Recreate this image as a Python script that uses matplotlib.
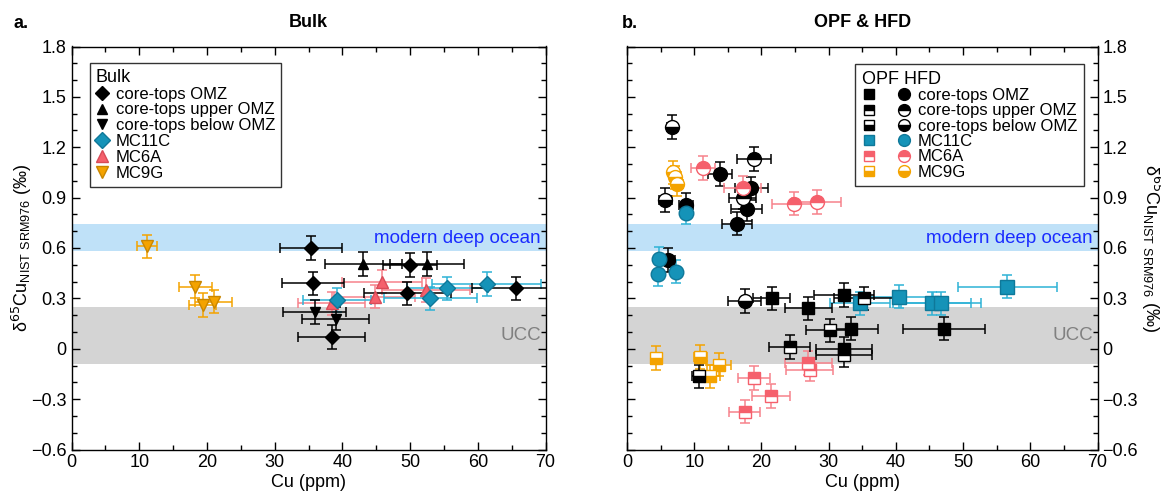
import matplotlib
matplotlib.use("Agg")
import matplotlib.pyplot as plt
from matplotlib.lines import Line2D
from matplotlib.legend_handler import HandlerTuple
from matplotlib.ticker import MultipleLocator, FuncFormatter

plt.rcParams['font.family'] = ['Liberation Sans', 'DejaVu Sans']

# ---------------- data: panel a (Bulk) ----------------
bulk_omz_x = [35.4, 35.7, 50.0, 49.6, 38.4, 65.7]
bulk_omz_y = [0.60, 0.39, 0.50, 0.33, 0.07, 0.36]
bulk_omz_xerr = [4.6, 4.6, 4.0, 6.4, 5.0, 6.5]

bulk_upper_x = [43.1, 52.5]
bulk_upper_y = [0.505, 0.505]
bulk_upper_xerr = [5.7, 5.4]

bulk_below_x = [35.9, 39.0]
bulk_below_y = [0.22, 0.18]
bulk_below_xerr = [4.6, 5.0]

bulk_mc11c_x = [39.2, 53.0, 55.5, 61.3]
bulk_mc11c_y = [0.29, 0.30, 0.36, 0.385]
bulk_mc11c_xerr = [5.0, 6.9, 6.0, 8.1]

bulk_mc6a_x = [38.4, 44.8, 45.8, 52.3]
bulk_mc6a_y = [0.27, 0.31, 0.40, 0.35]
bulk_mc6a_xerr = [5.0, 6.0, 5.9, 6.5]

bulk_mc9g_x = [11.2, 18.3, 19.4, 21.0]
bulk_mc9g_y = [0.61, 0.37, 0.26, 0.28]
bulk_mc9g_xerr = [1.5, 2.4, 2.0, 2.7]

# ---------------- data: panel b (OPF squares) ----------------
opf_omz_x = [21.5, 27.0, 32.3, 33.4, 47.1, 32.3]
opf_omz_y = [0.30, 0.24, 0.32, 0.12, 0.12, 0.0]
opf_omz_xerr = [2.8, 3.5, 4.5, 3.9, 6.1, 4.2]

opf_upper_x = [35.3, 24.2, 32.3]
opf_upper_y = [0.30, 0.01, -0.04]
opf_upper_xerr = [4.5, 3.1, 4.2]

opf_below_x = [30.2, 10.7]
opf_below_y = [0.11, -0.165]
opf_below_xerr = [3.5, 1.0]

opf_mc11c_x = [34.7, 40.5, 45.4, 46.7, 56.6]
opf_mc11c_y = [0.27, 0.31, 0.27, 0.27, 0.37]
opf_mc11c_xerr = [4.5, 5.0, 5.8, 5.9, 7.4]

opf_mc6a_x = [18.9, 21.4, 17.5, 27.0, 27.2]
opf_mc6a_y = [-0.175, -0.28, -0.375, -0.085, -0.125]
opf_mc6a_xerr = [2.4, 2.8, 2.3, 3.5, 3.5]

opf_mc9g_x = [4.3, 10.9, 13.7, 12.4]
opf_mc9g_y = [-0.055, -0.05, -0.095, -0.165]
opf_mc9g_xerr = [0.7, 1.0, 1.8, 1.5]

# ---------------- data: panel b (HFD circles) ----------------
hfd_omz_x = [6.1, 8.8, 13.8, 18.5, 17.8, 16.4]
hfd_omz_y = [0.53, 0.855, 1.04, 0.955, 0.83, 0.745]
hfd_omz_xerr = [1.0, 1.0, 1.8, 2.5, 2.3, 2.2]

hfd_upper_x = [18.9, 17.2]
hfd_upper_y = [1.13, 0.90]
hfd_upper_xerr = [2.5, 2.0]

hfd_below_x = [6.7, 5.7, 17.5]
hfd_below_y = [1.32, 0.885, 0.285]
hfd_below_xerr = [0.7, 1.0, 2.4]

hfd_mc11c_x = [4.7, 4.6, 7.3, 8.8]
hfd_mc11c_y = [0.535, 0.445, 0.46, 0.81]
hfd_mc11c_xerr = [0.6, 0.6, 0.8, 0.6]

hfd_mc6a_x = [11.3, 17.2, 24.8, 28.2]
hfd_mc6a_y = [1.075, 0.96, 0.865, 0.875]
hfd_mc6a_xerr = [1.8, 2.75, 3.3, 3.7]

hfd_mc9g_x = [6.9, 7.2, 7.5]
hfd_mc9g_y = [1.05, 1.02, 0.98]
hfd_mc9g_xerr = [0.7, 0.7, 0.8]

YERR = 0.07
deep_ocean_band = (0.585, 0.74)
ucc_band = (-0.09, 0.25)

BLACK = 'black'
BLUE = '#1593b8'
BLUE_ERR = '#2eb3d6'
RED = '#f5606c'
RED_ERR = '#f7828b'
ORANGE = '#f4a300'

W, H = 1161, 497
fig = plt.figure(figsize=(W / 100, H / 100), dpi=100)
ax_top, ax_bot = 46.5, 449.5
axL = fig.add_axes([71.5 / W, 1 - ax_bot / H, 474 / W, (ax_bot - ax_top) / H])
axR = fig.add_axes([627 / W, 1 - ax_bot / H, 470.5 / W, (ax_bot - ax_top) / H])


def fmt(v, pos):
    if abs(v) < 1e-9:
        return '0'
    s = '%.1f' % v
    return s.replace('-', '\u2212')


for ax in (axL, axR):
    ax.set_xlim(0, 70)
    ax.set_ylim(-0.6, 1.8)
    ax.axhspan(*deep_ocean_band, color='#bfe1f8', lw=0, zorder=0)
    ax.axhspan(*ucc_band, color='#d4d4d4', lw=0, zorder=0)
    ax.text(69.3, 0.655, 'modern deep ocean', color='#1a2cff', fontsize=13.5,
            ha='right', va='center', zorder=1)
    ax.text(69.3, 0.08, 'UCC', color='#808080', fontsize=13.5,
            ha='right', va='center', zorder=1)
    ax.xaxis.set_major_locator(MultipleLocator(10))
    ax.xaxis.set_minor_locator(MultipleLocator(5))
    ax.yaxis.set_major_locator(MultipleLocator(0.3))
    ax.yaxis.set_minor_locator(MultipleLocator(0.1))
    ax.yaxis.set_major_formatter(FuncFormatter(fmt))
    ax.tick_params(which='both', direction='in', top=True, right=True,
                   labelsize=13, width=1.0)
    ax.tick_params(which='major', length=6)
    ax.tick_params(which='minor', length=3.5)
    ax.set_xlabel('Cu (ppm)', fontsize=13, labelpad=2)
    for sp in ax.spines.values():
        sp.set_linewidth(1.0)

ylab = '\u03b4$^{65}$Cu$_{\\mathregular{NIST\\ SRM976}}$ (\u2030)'
axL.set_ylabel(ylab, fontsize=13, labelpad=-2)
axR.yaxis.set_label_position('right')
axR.yaxis.tick_right()
axR.tick_params(which='both', left=True, labelleft=False, labelright=True)
axR.set_ylabel(ylab, fontsize=13, rotation=270, labelpad=18)

axL.set_title('Bulk', fontsize=13, fontweight='bold', pad=14)
axR.set_title('OPF & HFD', fontsize=13, fontweight='bold', pad=14)
fig.text(14 / W, 1 - 24 / H, 'a.', fontsize=13, fontweight='bold', va='center')
fig.text(622 / W, 1 - 24 / H, 'b.', fontsize=13, fontweight='bold', va='center')


def plot_series(ax, x, y, xerr, marker, ms, face, edge, ecol, fill='full', z=3):
    ax.errorbar(x, y, xerr=xerr, yerr=[YERR] * len(x), fmt='none', ecolor=ecol,
                elinewidth=1.1, capsize=3.5, capthick=1.1, zorder=z)
    ax.plot(x, y, linestyle='none', marker=marker, markersize=ms,
            markerfacecolor=face, markerfacecoloralt='white', fillstyle=fill,
            markeredgecolor=edge, markeredgewidth=1.0, zorder=z + 0.5)


# ---- panel a ----
plot_series(axL, bulk_mc9g_x, bulk_mc9g_y, bulk_mc9g_xerr, 'v', 9, ORANGE, '#c98600', ORANGE)
plot_series(axL, bulk_mc6a_x, bulk_mc6a_y, bulk_mc6a_xerr, '^', 9, RED, '#d84b57', RED_ERR)
plot_series(axL, bulk_mc11c_x, bulk_mc11c_y, bulk_mc11c_xerr, 'D', 8, BLUE, '#0f7899', BLUE_ERR)
plot_series(axL, bulk_omz_x, bulk_omz_y, bulk_omz_xerr, 'D', 7.5, BLACK, BLACK, BLACK)
plot_series(axL, bulk_upper_x, bulk_upper_y, bulk_upper_xerr, '^', 7.5, BLACK, BLACK, BLACK)
plot_series(axL, bulk_below_x, bulk_below_y, bulk_below_xerr, 'v', 7.5, BLACK, BLACK, BLACK)

hL = [
    Line2D([], [], ls='none', marker='D', ms=7, mfc=BLACK, mec=BLACK, label='core-tops OMZ'),
    Line2D([], [], ls='none', marker='^', ms=7, mfc=BLACK, mec=BLACK, label='core-tops upper OMZ'),
    Line2D([], [], ls='none', marker='v', ms=7, mfc=BLACK, mec=BLACK, label='core-tops below OMZ'),
    Line2D([], [], ls='none', marker='D', ms=8, mfc=BLUE, mec='#0f7899', label='MC11C'),
    Line2D([], [], ls='none', marker='^', ms=9, mfc=RED, mec='#d84b57', label='MC6A'),
    Line2D([], [], ls='none', marker='v', ms=9, mfc=ORANGE, mec='#c98600', label='MC9G'),
]
legL = axL.legend(handles=hL, title='Bulk', loc='upper left', fontsize=12,
                  title_fontsize=13, handlelength=0.8, handletextpad=0.4,
                  labelspacing=0.05, borderpad=0.35, fancybox=False,
                  edgecolor='#333333', framealpha=1, alignment='left',
                  bbox_to_anchor=(0.021, 0.98))
legL.get_frame().set_linewidth(1.0)

# ---- panel b ----
# OPF squares
plot_series(axR, opf_mc9g_x, opf_mc9g_y, opf_mc9g_xerr, 's', 9, ORANGE, ORANGE, ORANGE, 'bottom')
plot_series(axR, opf_mc6a_x, opf_mc6a_y, opf_mc6a_xerr, 's', 9, RED, RED, RED_ERR, 'top')
plot_series(axR, opf_mc11c_x, opf_mc11c_y, opf_mc11c_xerr, 's', 10, BLUE, '#0f7899', BLUE_ERR, 'full')
plot_series(axR, opf_omz_x, opf_omz_y, opf_omz_xerr, 's', 9, BLACK, BLACK, BLACK, 'full')
plot_series(axR, opf_upper_x, opf_upper_y, opf_upper_xerr, 's', 9, BLACK, BLACK, BLACK, 'top')
plot_series(axR, opf_below_x, opf_below_y, opf_below_xerr, 's', 9, BLACK, BLACK, BLACK, 'bottom')
# HFD circles
plot_series(axR, hfd_omz_x, hfd_omz_y, hfd_omz_xerr, 'o', 10, BLACK, BLACK, BLACK, 'full')
plot_series(axR, hfd_upper_x, hfd_upper_y, hfd_upper_xerr, 'o', 10, BLACK, BLACK, BLACK, 'top')
plot_series(axR, hfd_below_x, hfd_below_y, hfd_below_xerr, 'o', 10, BLACK, BLACK, BLACK, 'bottom')
plot_series(axR, hfd_mc11c_x, hfd_mc11c_y, hfd_mc11c_xerr, 'o', 10.5, BLUE, '#0f7899', BLUE_ERR, 'full')
plot_series(axR, hfd_mc6a_x, hfd_mc6a_y, hfd_mc6a_xerr, 'o', 10, RED, RED, RED_ERR, 'top')
plot_series(axR, hfd_mc9g_x, hfd_mc9g_y, hfd_mc9g_xerr, 'o', 10, ORANGE, ORANGE, ORANGE, 'bottom')


def mk(marker, face, edge, fill):
    return Line2D([], [], ls='none', marker=marker, ms=7.5 if marker == 's' else 8.5,
                  mfc=face, mfcalt='white', mec=edge, fillstyle=fill, mew=1.0)


rows = [
    ('core-tops OMZ', BLACK, BLACK, 'full'),
    ('core-tops upper OMZ', BLACK, BLACK, 'top'),
    ('core-tops below OMZ', BLACK, BLACK, 'bottom'),
    ('MC11C', BLUE, '#0f7899', 'full'),
    ('MC6A', RED, RED, 'top'),
    ('MC9G', ORANGE, ORANGE, 'bottom'),
]
hR = [(mk('s', f, e, fs), mk('o', f, e, fs)) for _, f, e, fs in rows]
lR = [r[0] for r in rows]
legR = axR.legend(hR, lR, handler_map={tuple: HandlerTuple(ndivide=None, pad=1.22)},
                  title='OPF HFD', loc='upper right', fontsize=12, title_fontsize=13,
                  handlelength=2.98, handletextpad=0.4, labelspacing=0.02,
                  borderpad=0.4, fancybox=False, edgecolor='#333333',
                  framealpha=1, alignment='left', bbox_to_anchor=(0.989, 0.977))
legR.get_frame().set_linewidth(1.0)

fig.savefig('out.png', dpi=100)
